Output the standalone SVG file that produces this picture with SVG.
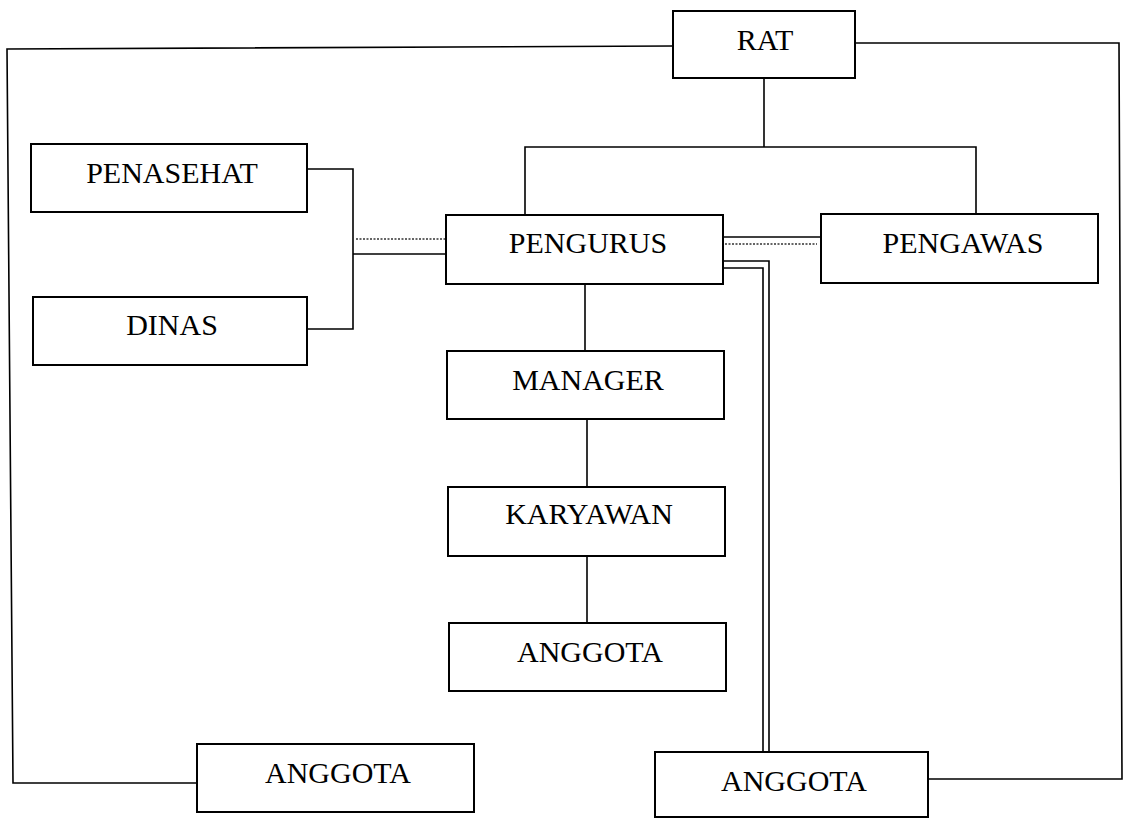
<svg xmlns="http://www.w3.org/2000/svg" width="1134" height="819" viewBox="0 0 1134 819">
<style>
.box{fill:#fff;stroke:#000;stroke-width:2}
.lbl{font-family:"Liberation Serif","Times New Roman",serif;font-size:30px;fill:#000;text-anchor:middle}
.ln{fill:none;stroke:#000;stroke-width:1.6}
.dot{fill:none;stroke:#333;stroke-width:1.6;stroke-dasharray:2 1.5}
</style>
<rect width="1134" height="819" fill="#fff"/>
<g id="connectors">
<polyline class="ln" points="673,46 7,49 13,783 197,783"/>
<polyline class="ln" points="855,43 1119,43 1122,779 928,779"/>
<polyline class="ln" points="764,78 764,147"/>
<polyline class="ln" points="525,215 525,147 976,147 976,214"/>
<polyline class="ln" points="307,169 353,169 353,329 308,329"/>
<line class="ln" x1="353" y1="254" x2="446" y2="254"/>
<line class="dot" x1="356" y1="239" x2="446" y2="239"/>
<line class="ln" x1="723" y1="237" x2="821" y2="237"/>
<line class="dot" x1="725" y1="244" x2="817" y2="244"/>
<polyline class="ln" points="723,261 769,261 769,752"/>
<polyline class="ln" points="719,268 763,268 763,752"/>
<line class="ln" x1="585" y1="284" x2="585" y2="351"/>
<line class="ln" x1="587" y1="419" x2="587" y2="487"/>
<line class="ln" x1="587" y1="556" x2="587" y2="623"/>
</g>
<g id="rat"><rect class="box" x="673" y="11" width="182" height="67"/><text class="lbl" x="765" y="50">RAT</text></g>
<g id="penasehat"><rect class="box" x="31" y="144" width="276" height="68"/><text class="lbl" x="172" y="183">PENASEHAT</text></g>
<g id="dinas"><rect class="box" x="33" y="297" width="274" height="68"/><text class="lbl" x="172" y="335">DINAS</text></g>
<g id="pengurus"><rect class="box" x="446" y="215" width="277" height="69"/><text class="lbl" x="588" y="253">PENGURUS</text></g>
<g id="pengawas"><rect class="box" x="821" y="214" width="277" height="69"/><text class="lbl" x="963" y="253">PENGAWAS</text></g>
<g id="manager"><rect class="box" x="447" y="351" width="277" height="68"/><text class="lbl" x="588" y="390">MANAGER</text></g>
<g id="karyawan"><rect class="box" x="448" y="487" width="277" height="69"/><text class="lbl" x="589" y="524">KARYAWAN</text></g>
<g id="anggota-center"><rect class="box" x="449" y="623" width="277" height="68"/><text class="lbl" x="590" y="662">ANGGOTA</text></g>
<g id="anggota-left"><rect class="box" x="197" y="744" width="277" height="68"/><text class="lbl" x="338" y="783">ANGGOTA</text></g>
<g id="anggota-right"><rect class="box" x="655" y="752" width="273" height="65"/><text class="lbl" x="794" y="791">ANGGOTA</text></g>
</svg>
